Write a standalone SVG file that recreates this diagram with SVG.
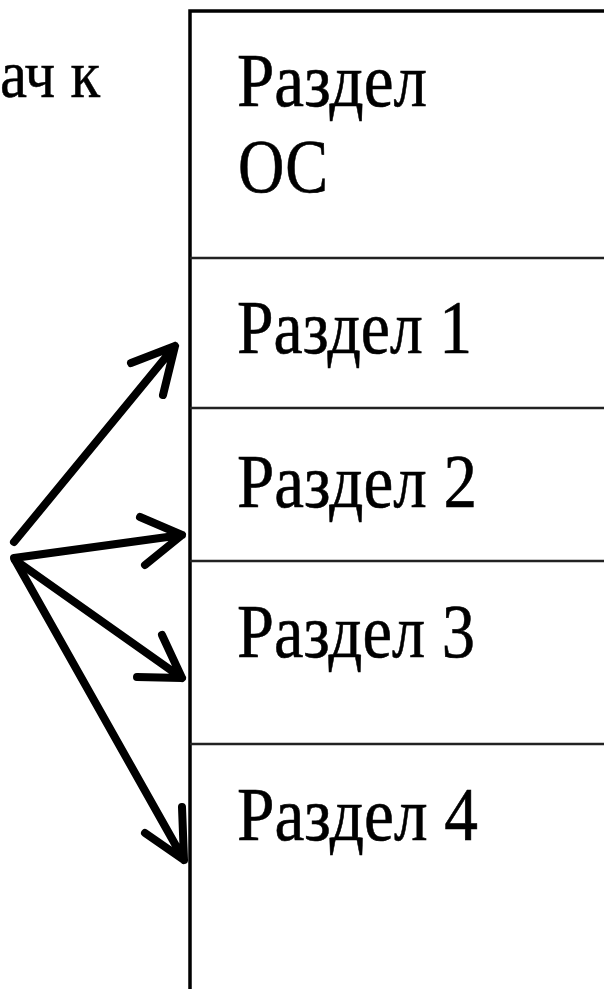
<svg xmlns="http://www.w3.org/2000/svg" width="604" height="989" viewBox="0 0 604 989">
  <style>
    .frame { fill: none; stroke: #000; stroke-width: 3.5; }
    .divider { fill: none; stroke: #222; stroke-width: 2.5; }
    .label { font-family: "Liberation Serif", "Times New Roman", serif; font-size: 77px; fill: #000; stroke: #000; stroke-width: 0.6; }
    .caption { font-family: "Liberation Serif", "Times New Roman", serif; font-size: 68px; fill: #000; stroke: #000; stroke-width: 0.5; }
    .arrow { fill: none; stroke: #000; stroke-width: 8; stroke-linecap: round; stroke-linejoin: round; }
  </style>
  <rect width="604" height="989" fill="#fff"/>

  <!-- partly visible caption on the left -->
  <text class="caption" x="0" y="97" textLength="100" lengthAdjust="spacingAndGlyphs">ач к</text>

  <!-- memory column frame -->
  <g id="frame">
    <path class="frame" d="M190,989 V11 H604"/>
  </g>

  <g id="os-section">
    <text class="label" x="237" y="106" textLength="190" lengthAdjust="spacingAndGlyphs">Раздел</text>
    <text class="label" x="238" y="192" textLength="90" lengthAdjust="spacingAndGlyphs">ОС</text>
  </g>
  <g id="section-1">
    <line class="divider" x1="190" y1="258" x2="604" y2="258"/>
    <text class="label" x="237" y="353" textLength="235" lengthAdjust="spacingAndGlyphs">Раздел 1</text>
  </g>
  <g id="section-2">
    <line class="divider" x1="190" y1="408" x2="604" y2="408"/>
    <text class="label" x="237" y="507" textLength="240" lengthAdjust="spacingAndGlyphs">Раздел 2</text>
  </g>
  <g id="section-3">
    <line class="divider" x1="190" y1="561" x2="604" y2="561"/>
    <text class="label" x="237" y="657" textLength="238" lengthAdjust="spacingAndGlyphs">Раздел 3</text>
  </g>
  <g id="section-4">
    <line class="divider" x1="190" y1="744" x2="604" y2="744"/>
    <text class="label" x="237" y="840" textLength="241" lengthAdjust="spacingAndGlyphs">Раздел 4</text>
  </g>

  <!-- hand-drawn arrows fanning out to the sections -->
  <g id="connectors">
    <path class="arrow" d="M14,542 L175,346 M131,363 L175,346 L163,395"/>
    <path class="arrow" d="M14,558 L182,535 M140,517 L182,535 L145,565"/>
    <path class="arrow" d="M15,560 L182,678 M162,635 L182,678 L137,677"/>
    <path class="arrow" d="M15,560 L184,860 M182,807 L184,860 L145,833"/>
  </g>
</svg>
